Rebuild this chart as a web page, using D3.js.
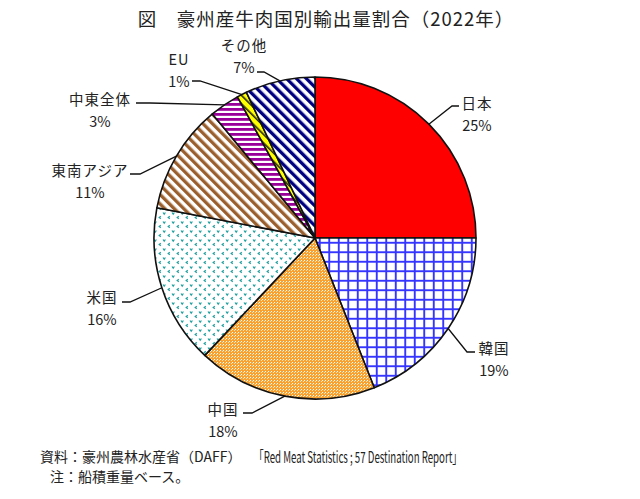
<!DOCTYPE html>
<html>
<head>
<meta charset="utf-8">
<script src="https://cdn.jsdelivr.net/npm/d3@7"></script>
<style>
  body { margin: 0; background: #fff; }
  svg text { font-family: "Noto Sans CJK JP", "Noto Sans", sans-serif; fill: #222; }
</style>
</head>
<body>
<svg id="chart" width="640" height="499"></svg>
<script>
// export share by destination, 2022 (%)
const names = ['日本', '韓国', '中国', '米国', '東南アジア', '中東全体', 'EU', 'その他'];
const shares = [25, 19, 18, 16, 11, 3, 1, 7];
const patterns = ['solidRed', 'gridBlue', 'dotOrange', 'vTeal', 'diagBrown', 'horizPurple', 'diagYellow', 'diagNavy'];

// label layout: text centre, elbow of leader, end of leader
const labelLayout = [
  {tx: 477, ty: 102, elbow: [452, 106], end: [459, 106]},
  {tx: 494, ty: 347, elbow: [467, 352], end: [475, 352]},
  {tx: 223, ty: 408, elbow: [252, 413], end: [243, 413]},
  {tx: 102, ty: 296, elbow: [130, 302], end: [122, 302]},
  {tx: 90, ty: 169, elbow: [140, 174], end: [130, 174]},
  {tx: 100, ty: 98, elbow: [150, 103], end: [136, 103]},
  {tx: 179, ty: 58, elbow: [200, 81], end: [192, 81]},
  {tx: 244, ty: 44, elbow: [264, 72], end: [257, 72]}
];

const cx = 315, cy = 238, radius = 161;
const svg = d3.select('#chart');
const defs = svg.append('defs');

const addPattern = (id, w, h, rot) => {
  const p = defs.append('pattern')
    .attr('id', id)
    .attr('patternUnits', 'userSpaceOnUse')
    .attr('width', w).attr('height', h);
  if (rot) p.attr('patternTransform', 'rotate(' + rot + ')');
  return p;
};

// grid
let p = addPattern('gridBlue', 9.5, 9.5);
p.append('rect').attr('width', 9.5).attr('height', 9.5).attr('fill', '#fff');
p.append('path').attr('d', 'M4.75,0V9.5M0,4.75H9.5').attr('stroke', '#3535ff').attr('stroke-width', 1.9);

// fine orange dots
p = addPattern('dotOrange', 3, 3);
p.append('rect').attr('width', 3).attr('height', 3).attr('fill', '#f8a232');
p.append('rect').attr('x', 1).attr('y', 1).attr('width', 1).attr('height', 1).attr('fill', '#fff');
p.append('rect').attr('x', 0).attr('y', 2).attr('width', 1).attr('height', 1).attr('fill', '#fde3b8');

// teal little chevrons
p = addPattern('vTeal', 9, 9);
p.append('rect').attr('width', 9).attr('height', 9).attr('fill', '#fff');
p.append('path').attr('d', 'M1,1.5L2.2,3.2L3.4,1.5M7.8,5.3L6.2,6.5L7.8,7.7')
  .attr('fill', 'none').attr('stroke', '#22a0a0').attr('stroke-width', 1.2);

// brown diagonal
p = addPattern('diagBrown', 6.7, 6.7, -45);
p.append('rect').attr('width', 6.7).attr('height', 6.7).attr('fill', '#fff');
p.append('rect').attr('width', 3.3).attr('height', 6.7).attr('fill', '#9a5f2c');

// purple horizontal
p = addPattern('horizPurple', 5, 5);
p.append('rect').attr('width', 5).attr('height', 5).attr('fill', '#fff');
p.append('rect').attr('width', 5).attr('height', 2.8).attr('fill', '#990099');

// yellow diagonal
p = addPattern('diagYellow', 6, 6, -45);
p.append('rect').attr('width', 6).attr('height', 6).attr('fill', '#ffff00');
p.append('rect').attr('width', 1.6).attr('height', 6).attr('fill', '#222');

// navy diagonal
p = addPattern('diagNavy', 7, 7, -45);
p.append('rect').attr('width', 7).attr('height', 7).attr('fill', '#fff');
p.append('rect').attr('width', 3.3).attr('height', 7).attr('fill', '#000080');

const fillFor = (i) => patterns[i] === 'solidRed' ? '#ff0000' : 'url(#' + patterns[i] + ')';

const pie = d3.pie().sort(null).value((d) => d);
const arcs = pie(shares);
const arc = d3.arc().innerRadius(0).outerRadius(radius);

const g = svg.append('g').attr('transform', 'translate(' + cx + ',' + cy + ')');

g.selectAll('path.slice')
  .data(arcs)
  .enter().append('path')
  .attr('class', 'slice')
  .attr('d', arc)
  .attr('fill', (d, i) => fillFor(i))
  .attr('stroke', '#111')
  .attr('stroke-width', 1.6)
  .attr('stroke-linejoin', 'round');

// leader lines
arcs.forEach((d, i) => {
  const a = (d.startAngle + d.endAngle) / 2;
  const ex = cx + radius * Math.sin(a);
  const ey = cy - radius * Math.cos(a);
  const L = labelLayout[i];
  svg.append('path')
    .attr('d', 'M' + ex + ',' + ey + 'L' + L.elbow[0] + ',' + L.elbow[1] + 'L' + L.end[0] + ',' + L.end[1])
    .attr('fill', 'none')
    .attr('stroke', '#111')
    .attr('stroke-width', 1.3);
});

// labels
labelLayout.forEach((L, i) => {
  svg.append('text')
    .attr('x', L.tx).attr('y', L.ty)
    .attr('text-anchor', 'middle')
    .attr('dominant-baseline', 'central')
    .attr('font-size', 14.5)
    .attr('letter-spacing', 1)
    .text(names[i]);
  svg.append('text')
    .attr('x', L.tx).attr('y', L.ty + 22)
    .attr('text-anchor', 'middle')
    .attr('dominant-baseline', 'central')
    .attr('font-size', 14.5)
    .text(shares[i] + '%');
});

// title
svg.append('text')
  .attr('x', 326).attr('y', 18)
  .attr('text-anchor', 'middle')
  .attr('dominant-baseline', 'central')
  .attr('font-size', 18.5)
  .attr('letter-spacing', 1)
  .text('図　豪州産牛肉国別輸出量割合（2022年）');

// notes
svg.append('text')
  .attr('x', 40).attr('y', 456)
  .attr('dominant-baseline', 'central')
  .attr('font-size', 14)
  .text('資料：豪州農林水産省（DAFF）');
svg.append('text')
  .attr('x', 254).attr('y', 456)
  .attr('dominant-baseline', 'central')
  .attr('font-size', 15.5)
  .attr('textLength', 208)
  .attr('lengthAdjust', 'spacingAndGlyphs')
  .text('「Red Meat Statistics ; 57 Destination Report」');
svg.append('text')
  .attr('x', 50).attr('y', 476)
  .attr('dominant-baseline', 'central')
  .attr('font-size', 14)
  .text('注：船積重量ベース。');
</script>
</body>
</html>
